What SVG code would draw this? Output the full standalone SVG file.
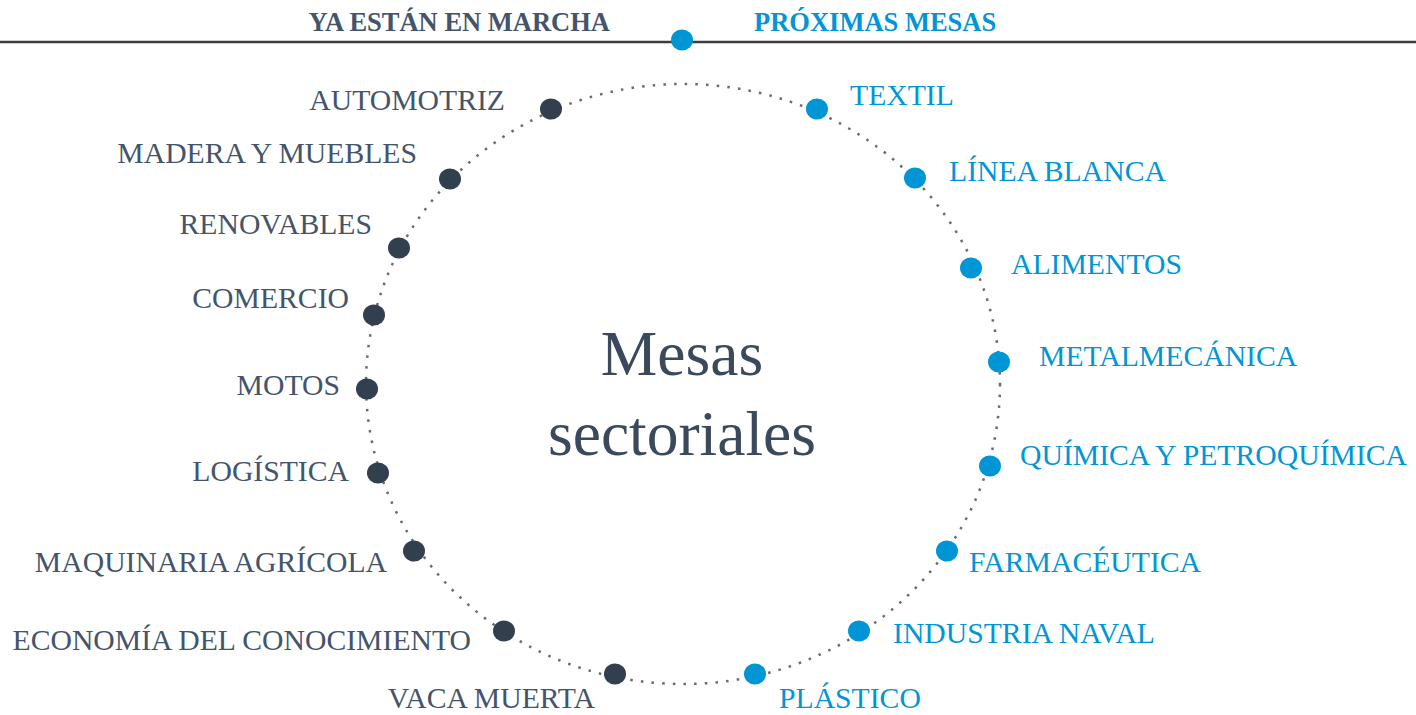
<svg xmlns="http://www.w3.org/2000/svg" width="1416" height="715" viewBox="0 0 1416 715">
<style>
.lbl{font-family:"Liberation Serif","Times New Roman",serif;font-size:29.7px}
.dk{fill:#44546A}
.bl{fill:#0096D6}
.l{text-anchor:end}
.hd{font-family:"Liberation Serif","Times New Roman",serif;font-size:26.5px;font-weight:bold}
.ddot{fill:#323F4F}
.bdot{fill:#0096D6}
.ttl{font-family:"Liberation Serif","Times New Roman",serif;font-size:63.5px;fill:#3A4A5C;text-anchor:middle}
</style>
<rect width="1416" height="715" fill="#ffffff"/>
<g id="connectors">
<line x1="0" y1="42" x2="1416" y2="42" stroke="#3C3C3C" stroke-width="2.5"/>
<ellipse cx="683" cy="384" rx="317" ry="300" fill="none" stroke="#6B6B6B" stroke-width="2.5" stroke-dasharray="2.5 8.2"/>
</g>
<g id="header">
<text class="hd dk" x="610" y="31" text-anchor="end">YA ESTÁN EN MARCHA</text>
<text class="hd bl" x="754" y="31">PRÓXIMAS MESAS</text>
<ellipse class="bdot" cx="682" cy="40" rx="11" ry="10.5"/>
</g>
<g id="title">
<text class="ttl" x="682" y="375">Mesas</text>
<text class="ttl" x="682" y="455">sectoriales</text>
</g>
<g id="automotriz"><ellipse class="ddot" cx="551" cy="109" rx="11" ry="10.5"/><text class="lbl dk l" x="505" y="110">AUTOMOTRIZ</text></g>
<g id="madera"><ellipse class="ddot" cx="450" cy="179" rx="11" ry="10.5"/><text class="lbl dk l" x="417" y="163">MADERA Y MUEBLES</text></g>
<g id="renovables"><ellipse class="ddot" cx="399" cy="248" rx="11" ry="10.5"/><text class="lbl dk l" x="372" y="234">RENOVABLES</text></g>
<g id="comercio"><ellipse class="ddot" cx="374" cy="315" rx="11" ry="10.5"/><text class="lbl dk l" x="349" y="308">COMERCIO</text></g>
<g id="motos"><ellipse class="ddot" cx="367" cy="389" rx="11" ry="10.5"/><text class="lbl dk l" x="340" y="395">MOTOS</text></g>
<g id="logistica"><ellipse class="ddot" cx="378" cy="473" rx="11" ry="10.5"/><text class="lbl dk l" x="349" y="481">LOGÍSTICA</text></g>
<g id="maquinaria"><ellipse class="ddot" cx="414" cy="551" rx="11" ry="10.5"/><text class="lbl dk l" x="387" y="572">MAQUINARIA AGRÍCOLA</text></g>
<g id="economia"><ellipse class="ddot" cx="504" cy="631" rx="11" ry="10.5"/><text class="lbl dk l" x="471" y="650">ECONOMÍA DEL CONOCIMIENTO</text></g>
<g id="vacamuerta"><ellipse class="ddot" cx="615" cy="674" rx="11" ry="10.5"/><text class="lbl dk l" x="595" y="708">VACA MUERTA</text></g>
<g id="textil"><ellipse class="bdot" cx="817" cy="109" rx="11" ry="10.5"/><text class="lbl bl" x="850" y="105">TEXTIL</text></g>
<g id="lineablanca"><ellipse class="bdot" cx="915" cy="178" rx="11" ry="10.5"/><text class="lbl bl" x="949" y="181">LÍNEA BLANCA</text></g>
<g id="alimentos"><ellipse class="bdot" cx="971" cy="268" rx="11" ry="10.5"/><text class="lbl bl" x="1011" y="274">ALIMENTOS</text></g>
<g id="metalmecanica"><ellipse class="bdot" cx="999" cy="362" rx="11" ry="10.5"/><text class="lbl bl" x="1039" y="366">METALMECÁNICA</text></g>
<g id="quimica"><ellipse class="bdot" cx="990" cy="466" rx="11" ry="10.5"/><text class="lbl bl" x="1020" y="465">QUÍMICA Y PETROQUÍMICA</text></g>
<g id="farmaceutica"><ellipse class="bdot" cx="947" cy="551" rx="11" ry="10.5"/><text class="lbl bl" x="969" y="572">FARMACÉUTICA</text></g>
<g id="naval"><ellipse class="bdot" cx="859" cy="631" rx="11" ry="10.5"/><text class="lbl bl" x="893" y="643">INDUSTRIA NAVAL</text></g>
<g id="plastico"><ellipse class="bdot" cx="755" cy="674" rx="11" ry="10.5"/><text class="lbl bl" x="779" y="708">PLÁSTICO</text></g>
</svg>
